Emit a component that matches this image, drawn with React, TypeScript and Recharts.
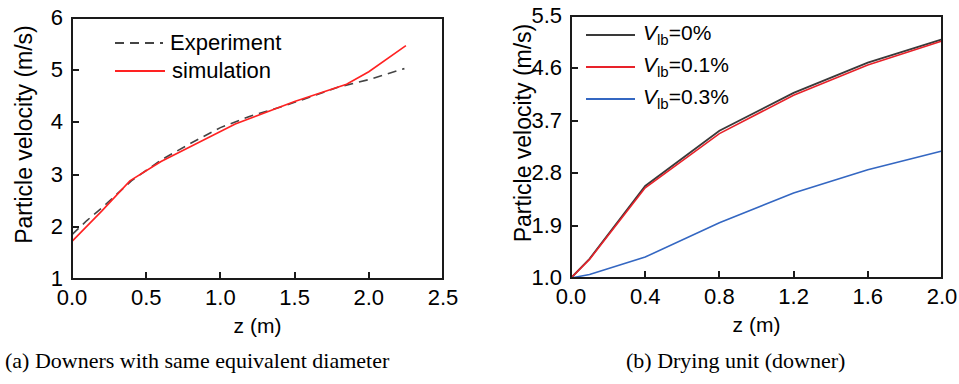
import { LineChart, Line, XAxis, YAxis, Legend, Label } from 'recharts';

// (a) downers with same equivalent diameter
const expZ = [0, 0.1, 0.2, 0.4, 0.6, 0.8, 1.0, 1.2, 1.4, 1.6, 1.8, 2.0, 2.24];
const expV = [1.85, 2.12, 2.36, 2.88, 3.28, 3.6, 3.9, 4.12, 4.29, 4.48, 4.68, 4.82, 5.03];
const simZ = [0, 0.2, 0.39, 0.6, 1.1, 1.5, 1.85, 2.0, 2.25];
const simV = [1.72, 2.3, 2.88, 3.25, 3.97, 4.4, 4.73, 4.97, 5.47];

// (b) drying unit (downer)
const dryZ = [0, 0.1, 0.4, 0.8, 1.2, 1.6, 2.0];
const vlb0 = [1.0, 1.33, 2.58, 3.53, 4.18, 4.7, 5.1];
const vlb01 = [1.0, 1.32, 2.55, 3.48, 4.14, 4.66, 5.07];
const vlb03 = [1.0, 1.06, 1.36, 1.95, 2.46, 2.86, 3.18];

const leftXTicks = [0, 0.5, 1.0, 1.5, 2.0, 2.5];
const leftYTicks = [1, 2, 3, 4, 5, 6];
const rightXTicks = [0, 0.4, 0.8, 1.2, 1.6, 2.0];
const rightYTicks = [1.0, 1.9, 2.8, 3.7, 4.6, 5.5];

const sans = '"Liberation Sans", Arial, Helvetica, sans-serif';
const serif = '"Liberation Serif", "Times New Roman", serif';

const expData = expZ.map((z, i) => ({ z, v: expV[i] }));
const simData = simZ.map((z, i) => ({ z, v: simV[i] }));
const dryData = dryZ.map((z, i) => ({ z, a: vlb0[i], b: vlb01[i], c: vlb03[i] }));

const ink = '#1a1a1a';

// chart geometry, shared by the chart margins and the frame overlay
const H = 345;
const XH = 50;
const left = { w: 480, yw: 72, m: { top: 18, right: 37, bottom: 16, left: 0 } };
const right = { w: 479, yw: 91, m: { top: 16, right: 17, bottom: 17, left: 0 } };

const xTick = (fmt: (v: number) => string) => (props: any) => {
  const { x, y, payload } = props;
  return (
    <text x={x} y={y + 26} textAnchor="middle" fontSize={22} fontFamily={sans} fill="#000">
      {fmt(payload.value)}
    </text>
  );
};

const yTick = (fmt: (v: number) => string) => (props: any) => {
  const { x, y, payload } = props;
  return (
    <text x={x - 9} y={y + 7} textAnchor="end" fontSize={22} fontFamily={sans} fill="#000">
      {fmt(payload.value)}
    </text>
  );
};

const fix1 = (v: number) => v.toFixed(1);
const fix0 = (v: number) => v.toFixed(0);

const xTitle = (props: any) => {
  const { x, y, width } = props.viewBox;
  return (
    <text x={x + width / 2} y={y + 54} textAnchor="middle" fontSize={21} fontFamily={sans} fill="#000">
      z (m)
    </text>
  );
};

const yTitle = (props: any) => {
  const { x, y, width, height } = props.viewBox;
  const cx = x + width - 40;
  const cy = y + height / 2 - 14;
  return (
    <text x={cx} y={cy} transform={`rotate(-90, ${cx}, ${cy})`} textAnchor="middle" fontSize={23} fontFamily={sans} fill="#000">
      Particle velocity (m/s)
    </text>
  );
};

// box frame with inward ticks, laid over the plot area
function Frame({ g, xd, yd, xt, yt }: any) {
  const L = g.m.left + g.yw;
  const R = g.w - g.m.right;
  const T = g.m.top;
  const B = H - g.m.bottom - XH;
  const px = (v: number) => L + ((v - xd[0]) / (xd[1] - xd[0])) * (R - L);
  const py = (v: number) => B - ((v - yd[0]) / (yd[1] - yd[0])) * (B - T);
  return (
    <div style={{ position: 'absolute', left: 0, top: 0, width: g.w, height: H, pointerEvents: 'none' }}>
      <div
        style={{
          position: 'absolute',
          left: L - 1,
          top: T - 1,
          width: R - L + 2,
          height: B - T + 2,
          border: `2px solid ${ink}`,
          boxSizing: 'border-box',
        }}
      />
      {xt.map((v: number) => (
        <div key={'x' + v} style={{ position: 'absolute', left: px(v) - 1, top: B - 7, width: 2, height: 7, background: ink }} />
      ))}
      {yt.map((v: number) => (
        <div key={'y' + v} style={{ position: 'absolute', left: L, top: py(v) - 1, width: 7, height: 2, background: ink }} />
      ))}
    </div>
  );
}

const row = { display: 'flex', alignItems: 'center', height: 28, whiteSpace: 'nowrap' as const };

const sample = (color: string, w: number, dashed = false) => ({
  width: w,
  height: 2,
  marginRight: 7,
  background: dashed ? `repeating-linear-gradient(90deg, ${color} 0 9px, transparent 9px 15px)` : color,
});

const LeftLegend = () => (
  <div style={{ fontFamily: sans, fontSize: 22, color: '#000' }}>
    <div style={row}>
      <div style={sample('#444', 48, true)} />
      <span>Experiment</span>
    </div>
    <div style={row}>
      <div style={sample('#f22', 50)} />
      <span>simulation</span>
    </div>
  </div>
);

const rightItems = [
  { label: '0%', color: '#3a3a3a' },
  { label: '0.1%', color: '#e8222a' },
  { label: '0.3%', color: '#3467c2' },
];

const RightLegend = () => (
  <div style={{ fontFamily: sans, fontSize: 21, color: '#000' }}>
    {rightItems.map((it) => (
      <div key={it.label} style={{ ...row, height: 32 }}>
        <div style={{ ...sample(it.color, 49), marginRight: 8 }} />
        <span>
          <i>V</i>
          <sub style={{ fontSize: 15 }}>lb</sub>={it.label}
        </span>
      </div>
    ))}
  </div>
);

export default function App() {
  return (
    <div style={{ position: 'absolute', left: 0, top: 0, width: 959, height: 384, background: '#fff' }}>
      <div style={{ display: 'flex' }}>
        <div style={{ position: 'relative', width: left.w, height: H }}>
          <LineChart width={left.w} height={H} margin={left.m}>
            <XAxis
              dataKey="z"
              type="number"
              domain={[0, 2.5]}
              ticks={leftXTicks}
              axisLine={false}
              tickLine={false}
              tickSize={0}
              tickMargin={0}
              tick={xTick(fix1)}
              height={XH}
              interval={0}
            >
              <Label content={xTitle} />
            </XAxis>
            <YAxis
              type="number"
              domain={[1, 6]}
              ticks={leftYTicks}
              axisLine={false}
              tickLine={false}
              tickSize={0}
              tickMargin={0}
              tick={yTick(fix0)}
              width={left.yw}
              interval={0}
            >
              <Label content={yTitle} />
            </YAxis>
            <Line data={expData} dataKey="v" name="Experiment" stroke="#444" strokeWidth={1.6} strokeDasharray="9 6" dot={false} isAnimationActive={false} />
            <Line data={simData} dataKey="v" name="simulation" stroke="#f22" strokeWidth={1.6} dot={false} isAnimationActive={false} />
            <Legend
              layout="vertical"
              align="center"
              verticalAlign="middle"
              content={<LeftLegend />}
              wrapperStyle={{ left: 115, top: 29, width: 200 }}
            />
          </LineChart>
          <Frame g={left} xd={[0, 2.5]} yd={[1, 6]} xt={leftXTicks} yt={leftYTicks} />
        </div>
        <div style={{ position: 'relative', width: right.w, height: H }}>
          <LineChart width={right.w} height={H} data={dryData} margin={right.m}>
            <XAxis
              dataKey="z"
              type="number"
              domain={[0, 2.0]}
              ticks={rightXTicks}
              axisLine={false}
              tickLine={false}
              tickSize={0}
              tickMargin={0}
              tick={xTick(fix1)}
              height={XH}
              interval={0}
            >
              <Label content={xTitle} />
            </XAxis>
            <YAxis
              type="number"
              domain={[1.0, 5.5]}
              ticks={rightYTicks}
              axisLine={false}
              tickLine={false}
              tickSize={0}
              tickMargin={0}
              tick={yTick(fix1)}
              width={right.yw}
              interval={0}
            >
              <Label content={yTitle} />
            </YAxis>
            <Line dataKey="a" name="Vlb=0%" stroke="#3a3a3a" strokeWidth={1.8} dot={false} isAnimationActive={false} />
            <Line dataKey="b" name="Vlb=0.1%" stroke="#e8222a" strokeWidth={1.6} dot={false} isAnimationActive={false} />
            <Line dataKey="c" name="Vlb=0.3%" stroke="#3467c2" strokeWidth={1.6} dot={false} isAnimationActive={false} />
            <Legend
              layout="vertical"
              align="center"
              verticalAlign="middle"
              content={<RightLegend />}
              wrapperStyle={{ left: 106, top: 19, width: 200 }}
            />
          </LineChart>
          <Frame g={right} xd={[0, 2.0]} yd={[1.0, 5.5]} xt={rightXTicks} yt={rightYTicks} />
        </div>
      </div>
      <div style={{ position: 'absolute', left: 5, top: 348, fontFamily: serif, fontSize: 22, color: '#000', whiteSpace: 'nowrap' }}>
        (a) Downers with same equivalent diameter
      </div>
      <div style={{ position: 'absolute', left: 626, top: 348, fontFamily: serif, fontSize: 22, color: '#000', whiteSpace: 'nowrap' }}>
        (b) Drying unit (downer)
      </div>
    </div>
  );
}
